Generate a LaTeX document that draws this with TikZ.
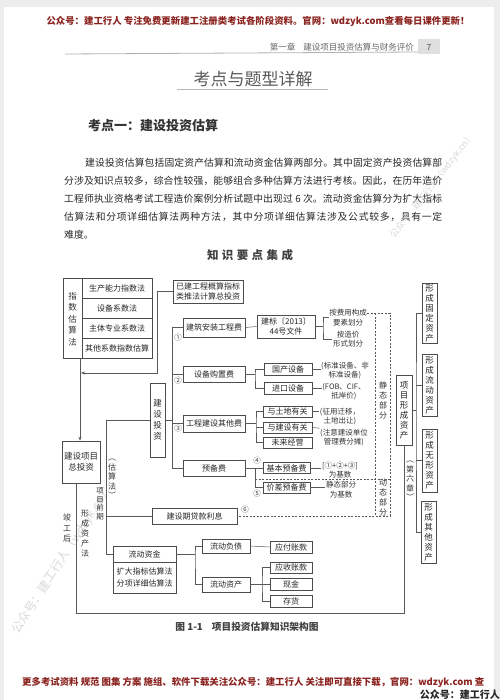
\documentclass[tikz,border=0pt]{standalone}
\usepackage{fontspec}
\setmainfont{Noto Sans CJK SC}
\usetikzlibrary{
  arrows.meta,
  positioning, calc
}
\definecolor{hdred}{HTML}{8B2420}
\newcommand{\fsz}[2]{\fontsize{#1}{#2}\selectfont}
\makeatletter
\newcommand{\spreadtxt}[2]{\makebox[#1][s]{\@tfor\@sc:=#2\do{\@sc\hfil}\unskip}}
\makeatother
\tikzset{
  box/.style={rectangle,draw=black!70,line width=0.6pt,fill=white,inner sep=0pt,
    align=center,font=\fsz{8}{10},text=black!85},
  vbox/.style={box,font=\fsz{8.5}{10}},
  vtxt/.style={inner sep=0pt,align=center,font=\fsz{8}{10},text=black!80},
  note/.style={inner sep=0.5pt,align=center,font=\fsz{7.5}{9.5},text=black!80},
  num/.style={inner sep=0pt,font=\fsz{7.5}{8},text=black!75},
  ln/.style={draw=black!65,line width=0.5pt},
  dln/.style={ln,dash pattern=on 2pt off 1.5pt},
  arr/.style={ln,-{Stealth[length=4pt,width=3pt]}},
  ptxt/.style={anchor=west,inner sep=0pt,font=\fsz{9.8}{10},text=black!85},
  wmark/.style={text=gray!30,inner sep=0pt}
}

\begin{document}
\begin{tikzpicture}[x=1pt,y=-1pt]
  \useasboundingbox (0,0) rectangle (500,700);
  \fill[gray!14] (0,0) rectangle (500,700);
  \fill[white] (4,7) rectangle (494,700);

  % page head
  \node[font=\fsz{9.4}{10}\bfseries,text=hdred] (head) at (258,21)
    {公众号：建工行人 专注免费更新建工注册类考试各阶段资料。官网：wdzyk.com查看每日课件更新！};
  \draw[gray!60,line width=0.8pt] (65,54) -- (418,52);
  \node[fill=gray!25,minimum width=22,minimum height=15,inner sep=0pt,font=\fsz{8.5}{9},text=black!70] (pgno) at (429,47) {7};
  \node[anchor=east,inner sep=0pt,font=\fsz{8.5}{9},text=black!60] (chap) at (414,47)
    {第一章\hspace{8pt}建设项目投资估算与财务评价};

  \node[font=\fsz{17}{18},text=black!65,inner sep=0pt] (title) at (253,79) {考点与题型详解};
  \draw[gray!55,line width=0.7pt] (177,89.5) -- (328,89.5);
  \node[anchor=west,inner sep=0pt,font=\fsz{13}{14}\bfseries,text=black!80] (kd1) at (88,126) {考点一：建设投资估算};

  % paragraph
  \node[ptxt] (p1) at (85,163) {\spreadtxt{357pt}{建设投资估算包括固定资产估算和流动资金估算两部分。其中固定资产投资估算部}};
  \node[ptxt] (p2) at (64,181) {\spreadtxt{378pt}{分涉及知识点较多，综合性较强，能够组合多种估算方法进行考核。因此，在历年造价}};
  \node[ptxt] (p3) at (64,199) {\spreadtxt{378pt}{工程师执业资格考试工程造价案例分析试题中出现过{\ 6\ }次。流动资金估算分为扩大指标}};
  \node[ptxt] (p4) at (64,217) {\spreadtxt{378pt}{估算法和分项详细估算法两种方法，其中分项详细估算法涉及公式较多，具有一定}};
  \node[ptxt] (p5) at (64,235) {难度。};

  \node[inner sep=0pt,font=\fsz{11.5}{12}\bfseries,text=black!75] (jc) at (250,255)
    {\makebox[86pt]{知\hfill 识\hfill 要\hfill 点\hfill 集\hfill 成}};

  % watermarks
  \node[wmark,rotate=52,font=\fsz{9}{9}] (wm1) at (432,186) {公众号：建工行人（wdzyk.cn）};
  \node[wmark,rotate=57,font=\fsz{12}{12}] (wm2) at (62,560) {公众号：建工行人（wdzyk.cn）};

  % index estimation
  \node[box,minimum width=89,minimum height=80] (idx) at (107.5,318) {};
  \node[vtxt,font=\fsz{8.5}{11.5}] (idxt) at (72.5,319) {指\\数\\估\\算\\法};
  \node[box,minimum width=70,minimum height=20] (m1) at (117,288) {生产能力指数法};
  \node[box,minimum width=70,minimum height=20] (m2) at (117,308) {设备系数法};
  \node[box,minimum width=70,minimum height=20] (m3) at (117,328) {主体专业系数法};
  \node[box,minimum width=70,minimum height=20] (m4) at (117,348) {其他系数指数估算};

  \node[box,minimum width=70,minimum height=23] (yj) at (208,291.5) {已建工程概算指标\\类推法计算总投资};
  \node[box,minimum width=38,minimum height=42,font=\fsz{8.5}{11.5}] (zt) at (81,462) {建设项目\\总投资};
  \node[vbox,minimum width=15,minimum height=74,font=\fsz{8.5}{11}] (js) at (157.5,420) {建\\设\\投\\资};

  % construction investment
  \node[box,minimum width=62,minimum height=19] (az) at (214,327.5) {建筑安装工程费};
  \node[box,minimum width=62,minimum height=16] (sb) at (214,374) {设备购置费};
  \node[box,minimum width=62,minimum height=17] (qt) at (214,423.5) {工程建设其他费};
  \node[box,minimum width=62,minimum height=16] (yb) at (214,468) {预备费};
  \node[box,minimum width=85,minimum height=16] (dk) at (194.5,516) {建设期贷款利息};

  \node[box,minimum width=58,minimum height=23] (jb) at (286,326.5) {建标〔2013〕\\44号文件};
  \node[box,minimum width=48,minimum height=12] (gc) at (288,369) {国产设备};
  \node[box,minimum width=48,minimum height=12] (jk) at (288,388) {进口设备};
  \node[box,minimum width=49,minimum height=11] (td) at (287.5,411.5) {与土地有关};
  \node[box,minimum width=49,minimum height=11] (jsg) at (287.5,427.5) {与建设有关};
  \node[box,minimum width=49,minimum height=11] (wl) at (287.5,442.5) {未来经营};
  \node[box,minimum width=47,minimum height=11] (jbyb) at (286.5,468) {基本预备费};
  \node[box,minimum width=47,minimum height=11] (jcyb) at (286.5,487.5) {价差预备费};

  \node[note] (n1) at (348,317.5) {按费用构成\\要素划分};
  \node[note] (n2) at (348,339) {按造价\\形式划分};
  \node[note] (n3) at (345,370.5) {(标准设备、非\\标准设备)};
  \node[note] (n4) at (344,391.5) {(FOB、CIF、\\抵岸价)};
  \node[note] (n5) at (340,416.5) {(征用迁移，\\土地出让)};
  \node[note] (n6) at (344,437.5) {(注意建设单位\\管理费分摊)};
  \node[note] (n7) at (340,470) {[①+②+③]\\为基数};
  \node[note] (n8) at (341,489.5) {静态部分\\为基数};

  \node[num] (c1) at (178,338) {①};
  \node[num] (c2) at (178,381) {②};
  \node[num] (c3) at (178,429) {③};
  \node[num] (c4) at (257,461) {④};
  \node[num] (c5) at (257,494) {⑤};
  \node[num] (c6) at (245,510) {⑥};

  \node[vtxt] (jt) at (383,400) {静\\态\\部\\分};
  \node[vtxt] (dt) at (383,498) {动\\态\\部\\分};

  % working capital
  \node[box,minimum width=63,minimum height=16] (ld) at (144.5,554) {流动资金};
  \node[box,minimum width=63,minimum height=31,font=\fsz{8}{11.7}] (ldm) at (144.5,577.5) {扩大指标估算法\\分项详细估算法};
  \node[box,minimum width=48,minimum height=14] (fz) at (226,546) {流动负债};
  \node[box,minimum width=48,minimum height=15] (zc) at (226,584.5) {流动资产};
  \node[box,minimum width=42,minimum height=12] (yf) at (291,547) {应付账款};
  \node[box,minimum width=42,minimum height=11] (ys) at (291,567.5) {应收账款};
  \node[box,minimum width=42,minimum height=12] (xj) at (291,584.5) {现金};
  \node[box,minimum width=42,minimum height=12] (ch) at (291,601) {存货};

  % assets
  \node[vbox,minimum width=16,minimum height=70] (xc) at (404,410) {项\\目\\形\\成\\资\\产};
  \node[vbox,minimum width=15,minimum height=60] (g1) at (429.5,313) {形\\成\\固\\定\\资\\产};
  \node[vbox,minimum width=15,minimum height=62] (g2) at (429.5,385) {形\\成\\流\\动\\资\\产};
  \node[vbox,minimum width=15,minimum height=63] (g3) at (429.5,460.5) {形\\成\\无\\形\\资\\产};
  \node[vbox,minimum width=15,minimum height=62] (g4) at (428.5,532) {形\\成\\其\\他\\资\\产};

  \node[vtxt,font=\fsz{8}{9.5}] (gsf) at (112,479) {︵\\估\\算\\法\\︶};
  \node[vtxt,font=\fsz{7.5}{8.5}] (qq) at (100,504) {项\\目\\前\\期};
  \node[vtxt,font=\fsz{8}{10.5}] (jg) at (67,528) {竣\\工\\后};
  \node[vtxt] (xzf) at (85,534) {形\\成\\资\\产\\法};
  \node[vtxt,font=\fsz{8}{9.5}] (dlz) at (410,481) {︵\\第\\六\\章\\︶};

  % connectors
  \coordinate (ain) at (81,373);
  \coordinate (idxb) at (80,358);
  \draw[arr] (yj.west) -- ++(-15,0) |- (ain);
  \draw[arr] (idxb) -- (zt.north -| idxb);
  \coordinate (lpa) at (76,613);
  \draw[ln] (zt.south -| lpa) |- (xc.south |- lpa) -- (xc.south);

  \coordinate (bk1) at (106,420);
  \draw[ln] (js.west) -- (bk1) |- (ld.west);
  \draw[ln] (bk1 |- dk.west) -- (dk.west);

  \coordinate (bk2) at (172,420);
  \draw[ln] (js.east) -- (bk2);
  \draw[ln] (az.west) -- (az.west -| bk2) -- (yb.west -| bk2) -- (yb.west);
  \draw[ln] (sb.west) -- (sb.west -| bk2);
  \draw[ln] (qt.west) -- (qt.west -| bk2);

  \coordinate (bk3) at (323,326.5);
  \draw[ln] (az.east) -- (jb.west);
  \draw[ln] (jb.east) -- (bk3);
  \draw[ln] (n1.west) -| (bk3) |- (n2.west);

  \coordinate (bk4) at (255,374);
  \draw[ln] (sb.east) -- (bk4);
  \draw[ln] (gc.west) -| (bk4) |- (jk.west);
  \draw[ln] (gc.east) -- (gc.east -| n3.west);
  \draw[ln] (jk.east) -- (jk.east -| n4.west);

  \coordinate (bk5) at (256,423.5);
  \draw[ln] (qt.east) -- (bk5);
  \draw[ln] (td.west) -| (bk5) |- (wl.west);
  \draw[ln] (jsg.west) -- (jsg.west -| bk5);
  \draw[ln] (td.east) -- (td.east -| n5.west);
  \draw[ln] (jsg.east) -- (n6.north west);

  \coordinate (bk6) at (255,468);
  \draw[ln] (yb.east) -- (jbyb.west);
  \draw[ln] (bk6) |- (jcyb.west);
  \draw[ln] (jbyb.east) -- (jbyb.east -| n7.west);
  \draw[ln] (jcyb.east) -- (jcyb.east -| n8.west);

  % static / dynamic frame
  \coordinate (dsa) at (375,313);
  \coordinate (dsb) at (390,516);
  \coordinate (dsm) at (255,479);
  \draw[dln] (n1.east |- dsa) -| (dsb) -- (dk.east);
  \draw[dln] (dsa) -- (dsa |- dsb);
  \draw[dln] (dsm) -- (dsm -| dsb);

  \coordinate (bk7) at (195,554);
  \draw[ln] (ld.east) -- (bk7);
  \draw[ln] (fz.west) -| (bk7) |- (zc.west);
  \draw[ln] (fz.east) -- (yf.west);
  \coordinate (bk8) at (262,584.5);
  \draw[ln] (zc.east) -- (xj.west);
  \draw[ln] (ys.west) -| (bk8) |- (ch.west);

  \coordinate (bk9) at (416,410);
  \draw[ln] (xc.east) -- (bk9);
  \draw[ln] (g1.west) -| (bk9) |- (g4.west);
  \draw[ln] (g2.west) -- (g2.west -| bk9);
  \draw[ln] (g3.west) -- (g3.west -| bk9);

  % caption and foot
  \node[inner sep=0pt,font=\fsz{9.7}{10}\bfseries,text=black!75] (cap) at (247,627) {图 1-1\hspace{9pt}项目投资估算知识架构图};
  \node[anchor=west,inner sep=0pt,font=\fsz{9.4}{10}\bfseries,text=hdred] (foot) at (22,682)
    {更多考试资料 规范 图集 方案 施组、软件下载关注公众号：建工行人 关注即可直接下载，官网：wdzyk.com 查};
  \node[anchor=east,inner sep=0pt,font=\fsz{10}{10}\bfseries,text=black!85] (foot2) at (500,695) {公众号：建工行人};
\end{tikzpicture}
\end{document}
